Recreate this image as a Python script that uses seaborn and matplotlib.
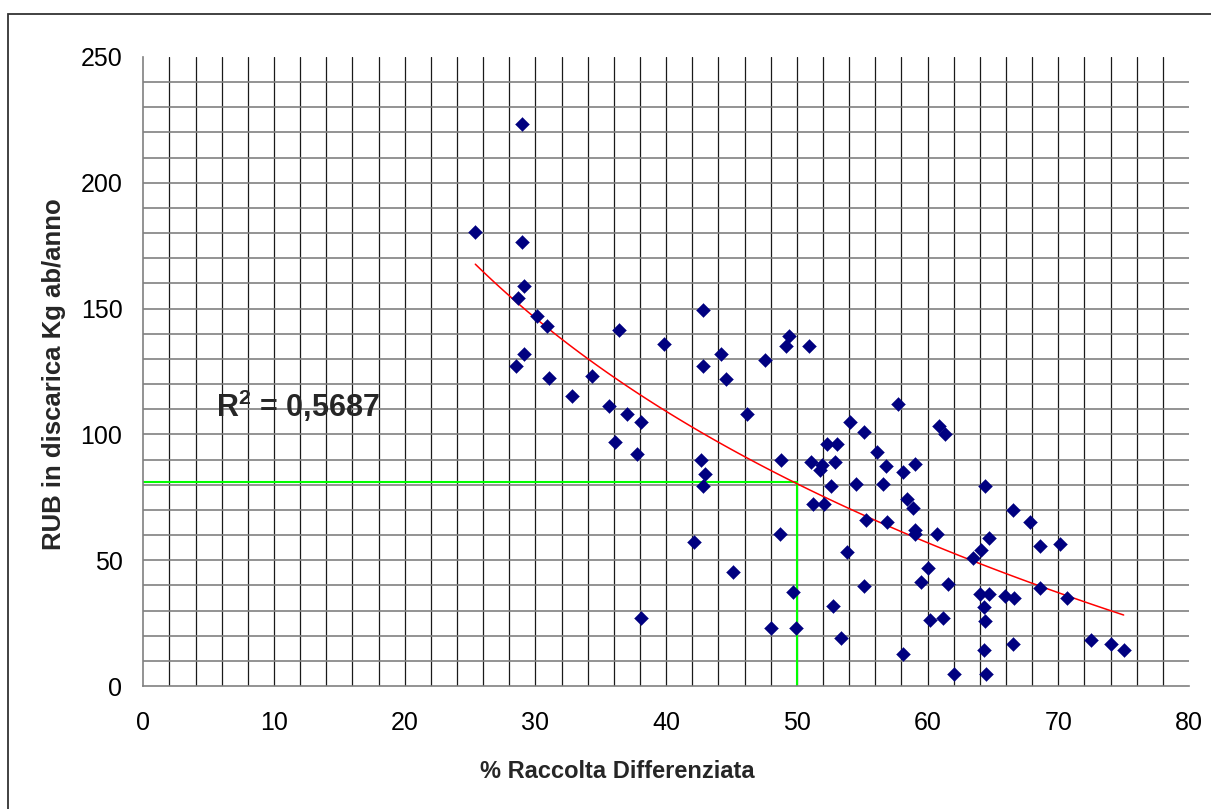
import numpy as np
import pandas as pd
import matplotlib
matplotlib.use("Agg")
import matplotlib.pyplot as plt
from matplotlib.ticker import FixedLocator
from matplotlib.patches import Rectangle
import seaborn as sns

# % raccolta differenziata (x) and RUB in discarica, kg per inhabitant per year (y)
raccolta = [
    29.0, 25.4, 29.0, 29.1, 28.7, 30.1, 30.9, 36.4, 42.8, 39.8,
    44.2, 29.1, 28.5, 42.8, 44.6, 31.0, 34.3, 32.8, 35.6, 37.0,
    38.1, 36.1, 37.8, 46.2, 42.7, 43.0, 42.8, 42.1, 45.1, 38.1,
    49.4, 49.2, 50.9, 47.6, 57.7, 54.1, 55.1, 60.9, 61.3, 52.3,
    53.1, 56.1, 48.8, 51.1, 51.9, 51.8, 52.9, 56.8, 59.0, 58.1,
    52.6, 54.5, 56.6, 64.4, 58.4, 58.9, 51.2, 52.1, 66.5, 67.8,
    55.3, 56.9, 59.0, 59.0, 60.7, 48.7, 64.7, 64.1, 68.6, 70.1,
    63.5, 53.8, 60.0, 59.5, 61.6, 55.1, 68.6, 64.0, 64.7, 65.9,
    66.6, 70.7, 49.7, 52.8, 64.3, 64.4, 60.2, 61.2, 48.0, 49.9,
    53.4, 58.1, 64.3, 66.5, 72.5, 74.0, 75.0, 62.0, 64.5,
]
rub_discarica = [
    223.4, 180.4, 176.5, 159.1, 154.3, 147.2, 143.2, 141.6, 149.6, 136.0,
    132.1, 132.1, 127.3, 127.3, 122.0, 122.4, 123.3, 115.4, 111.3, 108.2,
    104.9, 97.1, 92.2, 108.2, 89.9, 84.4, 79.5, 57.2, 45.4, 27.0,
    139.2, 135.1, 135.3, 129.7, 112.2, 104.9, 101.0, 103.5, 100.2, 96.2,
    96.2, 93.0, 89.7, 89.0, 87.7, 85.9, 89.0, 87.6, 88.2, 85.1,
    79.5, 80.2, 80.2, 79.5, 74.2, 70.6, 72.3, 72.3, 70.0, 65.2,
    66.0, 65.2, 62.0, 60.4, 60.5, 60.5, 58.8, 54.1, 55.6, 56.4,
    50.9, 53.3, 46.9, 41.3, 40.5, 39.7, 39.0, 36.6, 36.6, 35.8,
    35.0, 35.0, 37.4, 31.8, 31.3, 26.0, 26.2, 27.0, 22.9, 23.1,
    19.1, 12.7, 14.3, 16.7, 18.2, 16.7, 14.3, 4.8, 4.8,
]
r2_label = "0,5687"

# reference point marked with the green guide lines
target_x = 50
target_y = 81

x_ticks = list(range(0, 81, 10))
y_ticks = list(range(0, 251, 50))
x_grid = list(range(2, 80, 2))
y_grid = list(range(10, 250, 10))

df = pd.DataFrame({"raccolta": raccolta, "rub": rub_discarica})

sns.set_style("white")
plt.rcParams["font.family"] = ["Liberation Sans", "DejaVu Sans"]
plt.rcParams["mathtext.fontset"] = "custom"
plt.rcParams["mathtext.rm"] = "Liberation Sans"
plt.rcParams["mathtext.bf"] = "Liberation Sans:bold"

fig = plt.figure(figsize=(12.11, 8.09), dpi=100)
ax = fig.add_axes([143.3 / 1211, 1 - 686 / 809, (1189 - 143.3) / 1211, (686 - 57) / 809])

# outer chart border (runs off the right and bottom edges like the original)
fig.patches.append(Rectangle((8 / 1211, -0.02), 1.05, 1 - 14 / 809 + 0.02,
                             transform=fig.transFigure, fill=False,
                             edgecolor="#333333", linewidth=1.3, zorder=0))

ax.set_xlim(0, 80)
ax.set_ylim(0, 250)

ax.xaxis.set_major_locator(FixedLocator(x_ticks))
ax.yaxis.set_major_locator(FixedLocator(y_ticks))
ax.xaxis.set_minor_locator(FixedLocator(x_grid))
ax.yaxis.set_minor_locator(FixedLocator(y_grid))
ax.xaxis.remove_overlapping_locs = False
ax.yaxis.remove_overlapping_locs = False

ax.grid(False, which="major")
ax.grid(True, which="minor", axis="x", color="#1a1a1a", linewidth=0.9)
ax.grid(True, which="minor", axis="y", color="#808080", linewidth=1.2)
ax.set_axisbelow(True)

ax.tick_params(which="minor", length=0)
ax.tick_params(which="major", direction="out", length=6, width=1.1,
               color="#808080", labelsize=18, labelcolor="black")
ax.tick_params(axis="x", which="major", pad=12)
ax.tick_params(axis="y", which="major", pad=9)

for side in ["top", "right"]:
    ax.spines[side].set_visible(False)
for side in ["left", "bottom"]:
    ax.spines[side].set_color("#808080")
    ax.spines[side].set_linewidth(1.2)

# green guide lines at the 50% target
ax.plot([0, target_x], [target_y, target_y], color="#00ff00", linewidth=1.5, zorder=2)
ax.plot([target_x, target_x], [0, target_y], color="#00ff00", linewidth=1.5, zorder=2)

# logarithmic trend line
sns.regplot(data=df, x="raccolta", y="rub", logx=True, ci=None, scatter=False,
            line_kws={"color": "#ff0000", "linewidth": 1.1, "zorder": 3}, ax=ax)

sns.scatterplot(data=df, x="raccolta", y="rub", marker="D", s=50,
                color="#000080", edgecolor="#000080", linewidth=0.3, zorder=4, ax=ax)

ax.set_xlabel("")
ax.set_ylabel("")

ax.text(5.55, 107, r"R$^{\mathbf{2}}$ = " + r2_label, fontsize=22, fontweight="bold",
        va="baseline", ha="left", zorder=5)

fig.text(617 / 1211, 1 - 778 / 809, "% Raccolta Differenziata", fontsize=17,
         fontweight="bold", ha="center", va="baseline")
fig.text(61.5 / 1211, 1 - 374 / 809, "RUB in discarica Kg ab/anno", fontsize=18.5,
         fontweight="bold", ha="center", va="baseline", rotation=90,
         rotation_mode="anchor")

fig.savefig("out.png", dpi=100)
